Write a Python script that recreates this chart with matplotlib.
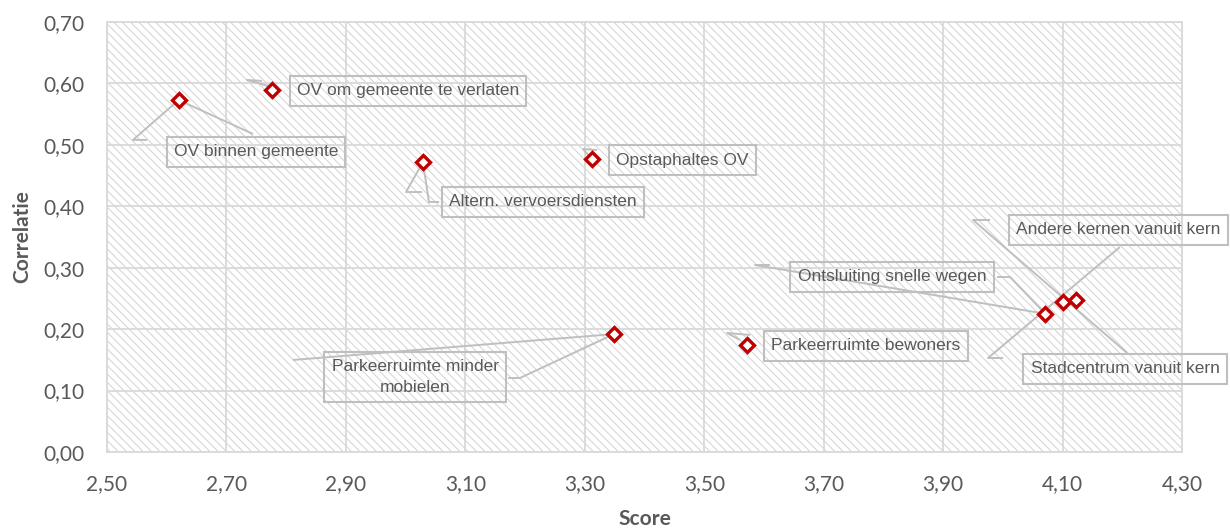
import matplotlib
matplotlib.use('Agg')
import matplotlib.pyplot as plt
from matplotlib.patches import Rectangle

# data (score vs correlatie)
labels = ['OV binnen gemeente', 'OV om gemeente te verlaten', 'Altern. vervoersdiensten',
          'Opstaphaltes OV', 'Parkeerruimte minder\nmobielen', 'Parkeerruimte bewoners',
          'Ontsluiting snelle wegen', 'Stadcentrum vanuit kern', 'Andere kernen vanuit kern']
score = [2.62, 2.776, 3.029, 3.312, 3.349, 3.572, 4.071, 4.101, 4.123]
correlatie = [0.573, 0.590, 0.472, 0.477, 0.192, 0.174, 0.225, 0.244, 0.248]

xticks = [2.50, 2.70, 2.90, 3.10, 3.30, 3.50, 3.70, 3.90, 4.10, 4.30]
yticks = [0.00, 0.10, 0.20, 0.30, 0.40, 0.50, 0.60, 0.70]

# where the data labels sit (text centre, data units)
label_pos = [(2.7495, 0.4884), (3.004, 0.5877), (3.230, 0.407), (3.463, 0.4753),
             (3.0157, 0.1221), (3.771, 0.1726), (3.8145, 0.2849), (4.2046, 0.1351),
             (4.193, 0.3614)]

# leader lines as excel drew them (including the odd stubs)
leaders = [
    [[(2.62, 0.573), (2.7445, 0.5177)], [(2.62, 0.573), (2.5435, 0.508), (2.567, 0.508)]],
    [[(2.7595, 0.604), (2.7344, 0.6056), (2.7696, 0.5958)]],
    [[(3.029, 0.472), (3.039, 0.407), (3.056, 0.407)], [(3.029, 0.472), (3.0007, 0.4232), (3.0275, 0.4232)]],
    [[(3.3205, 0.4916), (3.297, 0.4932), (3.3104, 0.4786)]],
    [[(3.349, 0.192), (2.8114, 0.1498)], [(3.349, 0.192), (3.1916, 0.1205), (3.1715, 0.1205)]],
    [[(3.5767, 0.1905), (3.5382, 0.1937), (3.56, 0.1823)]],
    [[(3.610, 0.3044), (3.585, 0.3044), (4.071, 0.225)], [(3.990, 0.2849), (4.012, 0.2849), (4.071, 0.225)]],
    [[(3.9786, 0.3777), (3.950, 0.3777), (4.208, 0.1612)]],
    [[(4.0003, 0.153), (3.9752, 0.153), (4.196, 0.3337)]],
]

grey = '#595959'
plt.rcParams['font.family'] = ['Lato', 'DejaVu Sans']
plt.rcParams['hatch.linewidth'] = 0.7

fig = plt.figure(figsize=(12.3, 5.31), dpi=100)
ax = fig.add_axes([0.087, 0.1488, 0.874, 0.8098])

# hatched plot area
ax.add_patch(Rectangle((0, 0), 1, 1, transform=ax.transAxes, facecolor='white',
                       edgecolor='#d2d2d2', hatch='\\\\\\\\', lw=0, zorder=0.1))

ax.set_xlim(2.5, 4.3)
ax.set_ylim(0, 0.7)
ax.set_xticks(xticks)
ax.set_yticks(yticks)
ax.set_xticklabels([f'{v:.2f}'.replace('.', ',') for v in xticks])
ax.set_yticklabels([f'{v:.2f}'.replace('.', ',') for v in yticks])
ax.tick_params(length=0, pad=16, labelsize=15, labelcolor=grey)
ax.set_axisbelow(True)
ax.grid(True, color='#d9d9d9', lw=1.3)
for s in ax.spines.values():
    s.set_color('#d9d9d9')
    s.set_linewidth(1.3)

for segs in leaders:
    for seg in segs:
        xs = [p[0] for p in seg]
        ys = [p[1] for p in seg]
        ax.plot(xs, ys, color='#bfbfbf', lw=1.4, zorder=2, solid_capstyle='butt')

ax.plot(score, correlatie, ls='none', marker='D', ms=7.5, mew=2.4,
        mec='#c00000', mfc='white', zorder=3)

for lab, (tx, ty) in zip(labels, label_pos):
    ax.text(tx, ty, lab, ha='center', va='center', multialignment='center',
            family=['Liberation Sans', 'DejaVu Sans'], fontsize=12.5, color=grey,
            linespacing=1.5, zorder=4,
            bbox=dict(boxstyle='square,pad=0.42', fc='none', ec='#bfbfbf', lw=1.5))

ax.set_xlabel('Score', fontsize=15, fontweight='bold', color=grey, va='center')
ax.set_ylabel('Correlatie', fontsize=15, fontweight='bold', color=grey, va='center')
ax.xaxis.set_label_coords(0.5, -0.157)
ax.yaxis.set_label_coords(-0.0791, 0.5)

fig.savefig('out.png', dpi=100)
